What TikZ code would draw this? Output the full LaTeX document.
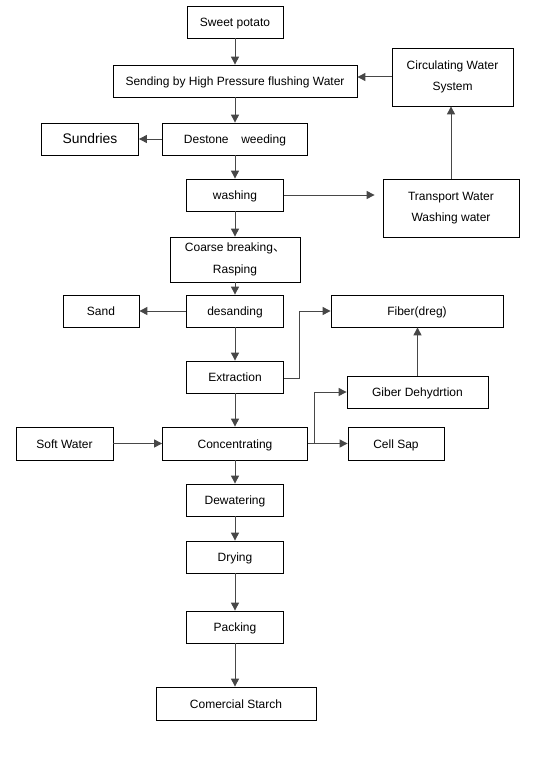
\documentclass[tikz,border=0pt]{standalone}
\usepackage{fontspec}
\setmainfont{Liberation Sans}
\newfontfamily\cjk{Noto Sans CJK SC}
\usepackage{tikz}
\usetikzlibrary{arrows.meta}

\tikzset{
  stepbox/.style={draw=black, line width=0.6pt, fill=white, inner sep=0.75pt, align=center,
    font=\fontsize{9}{16}\selectfont, text height=8.2pt, text depth=1.4pt},
  flow/.style={draw=black!72, line width=0.75pt, -{Triangle[length=6pt,width=6pt]}},
}

\begin{document}
\begin{tikzpicture}[x=0.75pt,y=0.75pt,yscale=-1,xscale=1]
\useasboundingbox (0,0) rectangle (539,767);

% Main line
\node [stepbox, minimum width=72pt, minimum height=24pt] (sweet) at (235,22) {Sweet potato};
\node [stepbox, minimum width=183pt, minimum height=24pt] (sending) at (235,81) {Sending by High Pressure flushing Water};
\node [stepbox, minimum width=108.75pt, minimum height=24pt] (destone) at (235,139) {Destone\hspace{7pt} weeding};
\node [stepbox, minimum width=72.75pt, minimum height=24pt] (washing) at (235,195) {washing};
\node [stepbox, minimum width=97.5pt, minimum height=33.75pt, text height=, text depth=] (coarse) at (235,259.5) {Coarse breaking{\cjk 、}\\Rasping};
\node [stepbox, minimum width=72.75pt, minimum height=24pt] (desanding) at (235,311) {desanding};
\node [stepbox, minimum width=72.75pt, minimum height=24pt] (extraction) at (235,377) {Extraction};
\node [stepbox, minimum width=108.75pt, minimum height=24.75pt] (concentrating) at (235,443.5) {Concentrating};
\node [stepbox, minimum width=72.75pt, minimum height=24pt] (dewatering) at (235,500) {Dewatering};
\node [stepbox, minimum width=72.75pt, minimum height=24pt] (drying) at (235,557) {Drying};
\node [stepbox, minimum width=72.75pt, minimum height=24pt] (packing) at (235,627) {Packing};
\node [stepbox, minimum width=120pt, minimum height=24.75pt] (starch) at (236,703.5) {Comercial Starch};

% Side boxes
\node [stepbox, minimum width=90.75pt, minimum height=43.5pt, text height=, text depth=] (circulating) at (452.5,77) {Circulating Water\\System};
\node [stepbox, minimum width=72.75pt, minimum height=24pt, font=\fontsize{10.4}{12}\selectfont] (sundries) at (90,139) {Sundries};
\node [stepbox, minimum width=102pt, minimum height=43.5pt, text height=, text depth=] (transport) at (451,208) {Transport Water\\Washing water};
\node [stepbox, minimum width=57pt, minimum height=24pt] (sand) at (101,311) {Sand};
\node [stepbox, minimum width=129pt, minimum height=24pt] (fiber) at (417,311) {Fiber(dreg)};
\node [stepbox, minimum width=105.75pt, minimum height=24pt] (giber) at (417.5,392) {Giber Dehydrtion};
\node [stepbox, minimum width=72.75pt, minimum height=24.75pt] (softwater) at (64.5,443.5) {Soft Water};
\node [stepbox, minimum width=72pt, minimum height=24.75pt] (cellsap) at (396,443.5) {Cell Sap};

% Main flow
\draw [flow] (sweet) -- (sending);
\draw [flow] (sending) -- (destone);
\draw [flow] (destone) -- (washing);
\draw [flow] (washing) -- (coarse);
\draw [flow] (coarse) -- (desanding);
\draw [flow] (desanding) -- (extraction);
\draw [flow] (extraction) -- (concentrating);
\draw [flow] (concentrating) -- (dewatering);
\draw [flow] (dewatering) -- (drying);
\draw [flow] (drying) -- (packing);
\draw [flow] (packing.south) -- (packing.south |- starch.north);

% Branches
\draw [flow] (destone) -- (sundries);
\draw [flow] (desanding) -- (sand);
\draw [flow, shorten >=6pt] (washing.east) -- (washing.east -| transport.west);
\draw [flow] (transport.north) -- (transport.north |- circulating.south);
\draw [flow] (circulating.west) -- (circulating.west -| sending.east);
\draw [flow] ([yshift=0.75pt]extraction.east) -- ++(15.5,0) |- (fiber.west);
\draw [flow] (giber.north) -- (giber.north |- fiber.south);
\draw [flow] (softwater) -- (concentrating);
\draw [flow] (concentrating) -- (cellsap);
\coordinate (split) at ([xshift=5.25pt]concentrating.east);
\draw [flow] (split) |- (giber.west);
\end{tikzpicture}
\end{document}
